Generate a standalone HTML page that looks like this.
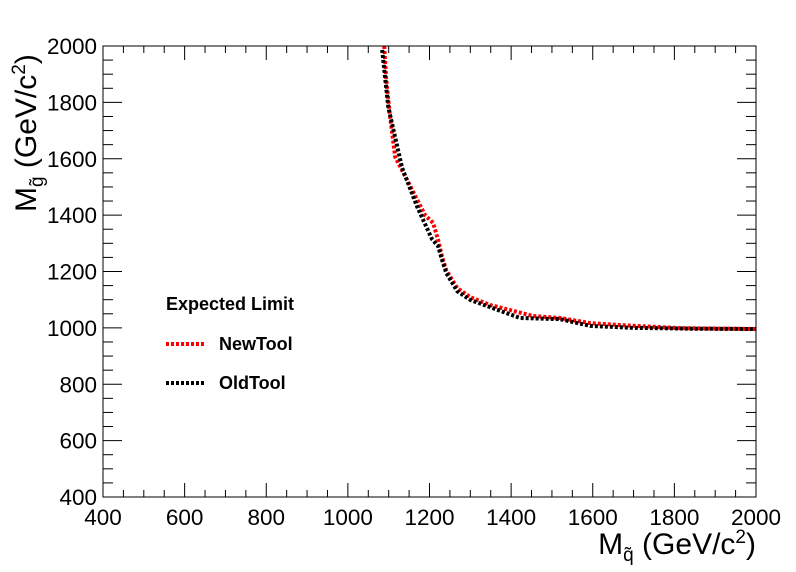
<!DOCTYPE html>
<html><head><meta charset="utf-8"><style>
body{margin:0;background:#fff}
svg{display:block;font-family:"Liberation Sans",Arial,sans-serif}
</style></head><body>
<svg id="chart" width="796" height="572" viewBox="0 0 796 572" xmlns="http://www.w3.org/2000/svg">
<rect x="0" y="0" width="796" height="572" fill="#fff"/>
<g id="ticks"></g>
<g id="curves"></g>
<rect x="103" y="46" width="653" height="451" fill="none" stroke="#000" stroke-width="1"/>
<g id="labels" font-size="22.5"></g>
<text transform="translate(36,212) rotate(-90)" font-size="30" text-anchor="start">M<tspan font-size="19" dy="7">g̃</tspan><tspan dy="-7"> (GeV/c</tspan><tspan font-size="19" dy="-11">2</tspan><tspan dy="11">)</tspan></text>
<text x="756" y="554" font-size="30" text-anchor="end">M<tspan font-size="19" dy="7">q̃</tspan><tspan dy="-7"> (GeV/c</tspan><tspan font-size="19" dy="-11">2</tspan><tspan dy="11">)</tspan></text>
<g>
<text x="166" y="310" font-size="18" font-weight="bold">Expected Limit</text>
<line x1="166" y1="344" x2="205" y2="344" stroke="#f00" stroke-width="4" stroke-dasharray="3,2"/>
<text x="219" y="350" font-size="18" font-weight="bold">NewTool</text>
<line x1="166" y1="383" x2="205" y2="383" stroke="#000" stroke-width="4" stroke-dasharray="3,2"/>
<text x="219" y="389" font-size="18" font-weight="bold">OldTool</text>
</g>
</svg>
<script>
const xTicks=[400,600,800,1000,1200,1400,1600,1800,2000];
const yTicks=[400,600,800,1000,1200,1400,1600,1800,2000];
const newSquark=[1089,1094,1103,1116,1145,1189,1209,1221,1231,1241,1268,1300,1349,1454,1520,1594,1667,1814,2000];
const newGluino=[2000,1879,1755,1606,1525,1400,1372,1312,1251,1205,1141,1109,1081,1042,1035,1017,1010,999,996];
const oldSquark=[1084,1099,1133,1170,1206,1221,1231,1241,1268,1300,1422,1520,1594,1700,1850,2000];
const oldGluino=[1986,1783,1567,1429,1315,1290,1240,1195,1130,1099,1035,1031,1007,1000,997,996];
const X=v=>103+(v-400)*653/1600;
const Y=v=>497-(v-400)*451/1600;
const NS="http://www.w3.org/2000/svg";
const tg=document.getElementById('ticks'),lg=document.getElementById('labels'),cg=document.getElementById('curves');
function ln(x1,y1,x2,y2,name){const l=document.createElementNS(NS,'line');
l.setAttribute('x1',x1);l.setAttribute('y1',y1);l.setAttribute('x2',x2);l.setAttribute('y2',y2);l.setAttribute('stroke','#000');


tg.appendChild(l);}
for(let v=400;v<=2000;v+=50){const major=v%200===0;const L=major?14:7;
ln(X(v),497,X(v),497-L,'x-tick');ln(X(v),46,X(v),46+L,'x-tick-top');
const Ly=major?19:10;
ln(103,Y(v),103+Ly,Y(v),'y-tick');ln(756,Y(v),756-Ly,Y(v),'y-tick-right');}
xTicks.forEach(v=>{const t=document.createElementNS(NS,'text');t.setAttribute('x',X(v));t.setAttribute('y',525);t.setAttribute('text-anchor','middle');t.textContent=v;


lg.appendChild(t);});
yTicks.forEach(v=>{const t=document.createElementNS(NS,'text');t.setAttribute('x',97);t.setAttribute('y',Y(v)+8);t.setAttribute('text-anchor','end');t.textContent=v;


lg.appendChild(t);});
function curve(xs,ys,color,name){const p=document.createElementNS(NS,'polyline');
p.setAttribute('points',xs.map((x,i)=>X(x)+','+Y(ys[i])).join(' '));
p.setAttribute('fill','none');p.setAttribute('stroke',color);p.setAttribute('stroke-width','4');p.setAttribute('stroke-dasharray','3,2');


cg.appendChild(p);}
curve(newSquark,newGluino,'#f00','newtool-curve');
curve(oldSquark,oldGluino,'#000','oldtool-curve');
</script>
</body></html>
